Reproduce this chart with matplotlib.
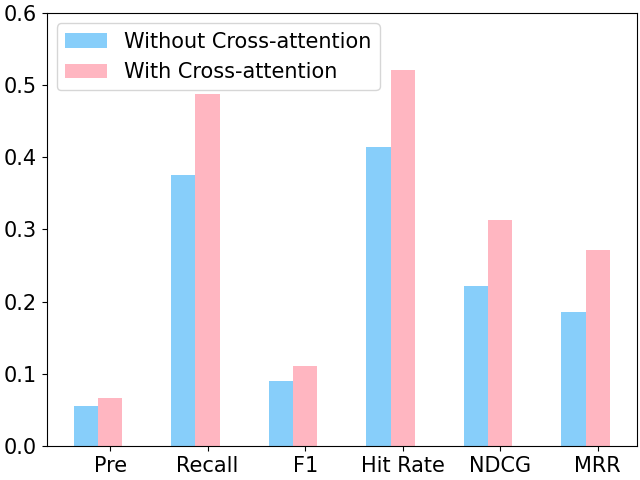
import numpy as np
import matplotlib
matplotlib.use('Agg')
import matplotlib.pyplot as plt

metrics = ['Pre', 'Recall', 'F1', 'Hit Rate', 'NDCG', 'MRR']
without_ca = [0.055, 0.375, 0.090, 0.414, 0.221, 0.186]
with_ca = [0.066, 0.488, 0.111, 0.521, 0.313, 0.272]

plt.rcParams['font.size'] = 15

x = np.arange(len(metrics))
width = 0.25

fig, ax = plt.subplots(figsize=(6.4, 4.8), dpi=100)
ax.bar(x, without_ca, width, color='lightskyblue', label='Without Cross-attention')
ax.bar(x + width, with_ca, width, color='lightpink', label='With Cross-attention')

ax.set_xticks(x + width)
ax.set_xticklabels(metrics)
ax.set_ylim(0, 0.6)
ax.legend(loc='upper left')

fig.subplots_adjust(left=0.073, right=0.995, top=0.973, bottom=0.071)
plt.savefig('out.png')
